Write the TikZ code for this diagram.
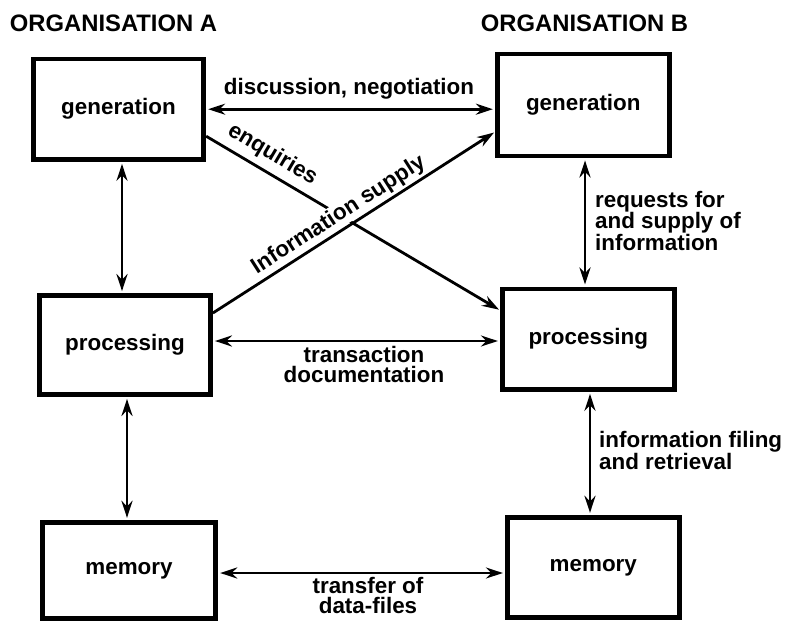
\documentclass[tikz,border=0pt]{standalone}
\usepackage{fontspec}
\setmainfont{Liberation Sans}
\usetikzlibrary{arrows.meta}
\newcommand\diagfont{\fontsize{22.4}{20.5}\selectfont\bfseries}
\newcommand\headingfont{\fontsize{23.8}{25}\selectfont\bfseries}

\begin{document}
\begin{tikzpicture}[x=1pt,y=-1pt,
  font=\diagfont,
  box/.style={draw, line width=4.8pt, inner sep=0pt, align=center},
  twoway/.style={line width=2.8pt, {Stealth[length=17pt,width=11pt,inset=5.5pt]}-{Stealth[length=17pt,width=11pt,inset=5.5pt]},
                 shorten <=2pt, shorten >=2pt},
  oneway/.style={line width=2.8pt, -{Stealth[length=17pt,width=11pt,inset=5.5pt]}, shorten >=1pt},
  lbl/.style={inner sep=0pt, align=left},
  header/.style={inner sep=0pt, font=\headingfont}]
\useasboundingbox[fill=white] (0,0) rectangle (792,621);

% column headings
\node[header] (hdA) at (113.5,23.5) {ORGANISATION A};
\node[header] (hdB) at (584.5,23.5) {ORGANISATION B};

% organisation A
\node[box, minimum width=170.5pt, minimum height=100.5pt] (genA)  at (118.5,109.2) {generation};
\node[box, minimum width=171pt,   minimum height=99pt]    (procA) at (125,345)     {processing};
\node[box, minimum width=173.5pt, minimum height=96.5pt]  (memA)  at (129,570.5)   {memory};

% organisation B
\node[box, minimum width=172pt, minimum height=102pt]   (genB)  at (583.3,105)   {generation};
\node[box, minimum width=172pt, minimum height=100.5pt] (procB) at (588.3,339.2) {processing};
\node[box, minimum width=172pt, minimum height=100.5pt] (memB)  at (593.3,567.5) {memory};

% links inside each organisation
\draw[twoway] ([xshift=3.5pt]genA.south)  -- ([xshift=3.5pt]genA.south  |- procA.north);
\draw[twoway] ([xshift=2pt]procA.south)   -- ([xshift=2pt]procA.south   |- memA.north);
\draw[twoway] ([xshift=1.7pt]genB.south)  -- ([xshift=1.7pt]genB.south  |- procB.north);
\draw[twoway] ([xshift=1.7pt]procB.south) -- ([xshift=1.7pt]procB.south |- memB.north);

% links between the organisations
\draw[twoway] (genA.east) -- (genA.east -| genB.west);
\draw[twoway] ([yshift=4pt]procA.east) -- ([yshift=4pt]procA.east -| procB.west);
\draw[twoway] ([yshift=-2.5pt]memA.east) -- ([yshift=-2.5pt]memA.east -| memB.west);

% crossing flows
\draw[oneway] ([yshift=-27pt]genA.east) -- ([yshift=29pt]procB.west)
  node[sloped, above=5.9pt, pos=0.195, inner sep=0pt] (lEnq) {enquiries};
\draw[oneway] ([yshift=32pt]procA.east) -- ([yshift=-27pt]genB.west)
  node[sloped, above=1pt, pos=0.473, inner sep=1.5pt, fill=white] (lInfo) {Information supply};

% flow labels
\node[lbl, anchor=base] (lDisc) at (349,94) {discussion, negotiation};
\node[lbl, align=center, anchor=north] (lTrans) at (364,346) {transaction\\documentation};
\node[lbl, align=center, anchor=north] (lTransf) at (368,576.6) {transfer of\\data-files};
\node[lbl, anchor=north west] (lReq) at (595,190.6) {requests for\\and supply of\\information};
\node[lbl, anchor=north west] (lFile) at (599,430.6) {information filing\\and retrieval};
\end{tikzpicture}
\end{document}
